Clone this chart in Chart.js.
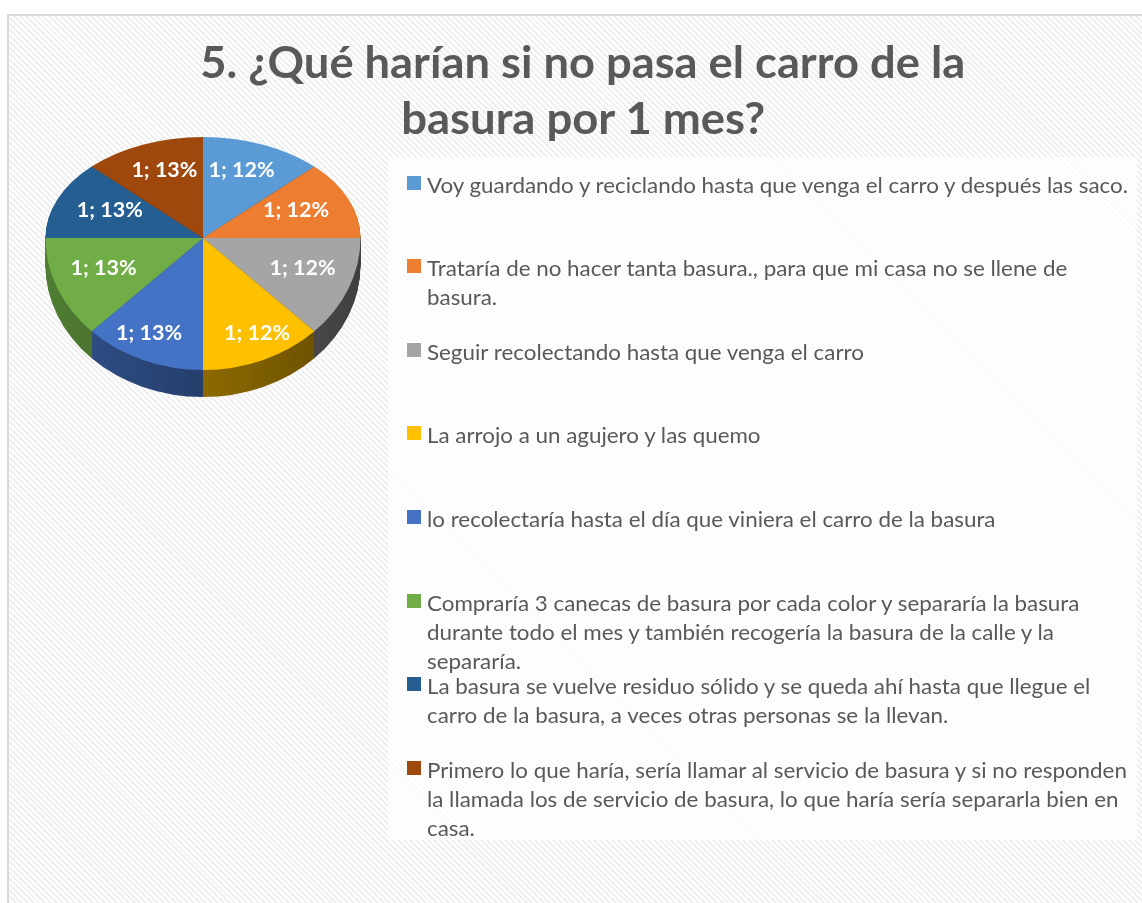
<!DOCTYPE html>
<html><head><meta charset="utf-8">
<script src="https://cdn.jsdelivr.net/npm/chart.js@4"></script>
<style>
html,body{margin:0;padding:0;background:#fff;overflow:hidden;width:1142px;height:903px;position:relative;}
#frame{position:absolute;left:7px;top:14px;width:1200px;height:960px;border:2px solid #d9d9d9;box-sizing:border-box;
 background:repeating-linear-gradient(45deg,#ffffff 0px,#ffffff 2.1px,#f0f0f0 2.1px,#f0f0f0 4.2px);}
#legbox{position:absolute;left:388px;top:157px;width:749px;height:683px;background:rgba(255,255,255,0.72);}
#chart{position:absolute;left:0;top:0;}
.tline{position:absolute;left:0;width:1166px;text-align:center;font-family:Lato,"Open Sans",sans-serif;font-weight:bold;
 font-size:44px;line-height:52px;color:#595959;white-space:nowrap;}
.tline span{display:inline-block;transform-origin:50% 50%;}
.lmark{position:absolute;left:407px;width:14px;height:14px;}
.ltext{position:absolute;left:427px;font-family:Lato,"Open Sans",sans-serif;font-size:21px;line-height:29px;color:#595959;white-space:nowrap;}
.ltext div{transform-origin:0 50%;}
</style></head>
<body>
<div id="frame"></div>
<div id="legbox"></div>
<canvas id="chart" width="1142" height="903"></canvas>
<div id="title"></div>
<div id="legend"></div>
<script>
const titleLines = ['5. ¿Qué harían si no pasa el carro de la', 'basura por 1 mes?'];
const categories = [
  ['Voy guardando y reciclando hasta que venga el carro y después las saco.'],
  ['Trataría de no hacer tanta basura., para que mi casa no se llene de', 'basura.'],
  ['Seguir recolectando hasta que venga el carro'],
  ['La arrojo a un agujero y las quemo'],
  ['lo recolectaría hasta el día que viniera el carro de la basura'],
  ['Compraría 3 canecas de basura por cada color y separaría la basura', 'durante todo el mes y también recogería la basura de la calle y la', 'separaría.'],
  ['La basura se vuelve residuo sólido y se queda ahí hasta que llegue el', 'carro de la basura, a veces otras personas se la llevan.'],
  ['Primero lo que haría, sería llamar al servicio de basura y si no responden', 'la llamada los de servicio de basura, lo que haría sería separarla bien en', 'casa.']
];
const values = [1, 1, 1, 1, 1, 1, 1, 1];
const pctLabels = ['12%', '12%', '12%', '12%', '13%', '13%', '13%', '13%'];
const colors = ['#5B9BD5', '#ED7D31', '#A5A5A5', '#FFC000', '#4472C4', '#70AD47', '#255E91', '#9E480E'];

const K_TOP = 0.641, K_BOT = 0.838, DEPTH = 27, K_LABEL = 0.73;

function shade(hex, f) {
  const n = parseInt(hex.slice(1), 16);
  const r = Math.round(((n >> 16) & 255) * f), g = Math.round(((n >> 8) & 255) * f), b = Math.round((n & 255) * f);
  return 'rgb(' + r + ',' + g + ',' + b + ')';
}

const pie3d = {
  id: 'pie3d',
  beforeDatasetsDraw(chart) {
    const ctx = chart.ctx, meta = chart.getDatasetMeta(0), arcs = meta.data;
    const cx = arcs[0].x, cy = arcs[0].y, R = arcs[0].outerRadius;
    const W = chart.width, H = chart.height;
    const half = (top, k, fn) => {
      ctx.save(); ctx.beginPath();
      if (top) ctx.rect(0, 0, W, cy + 0.5); else ctx.rect(0, cy, W, H - cy);
      ctx.clip();
      ctx.translate(cx, cy); ctx.scale(1, k); ctx.translate(-cx, -cy);
      fn(); ctx.restore();
    };
    const grads = arcs.map((a, i) => {
      const g = ctx.createLinearGradient(cx - R, 0, cx + R, 0);
      g.addColorStop(0, shade(colors[i], 0.72));
      g.addColorStop(1, shade(colors[i], 0.38));
      return g;
    });
    const fillSides = () => arcs.forEach((a, i) => {
      ctx.beginPath(); ctx.moveTo(cx, cy);
      ctx.arc(cx, cy, R, a.startAngle, a.endAngle); ctx.closePath();
      ctx.fillStyle = grads[i]; ctx.fill();
    });
    for (let d = DEPTH; d >= 1; d--) {
      ctx.save(); ctx.translate(0, d);
      half(false, K_BOT, fillSides);
      half(true, K_TOP, fillSides);
      ctx.restore();
    }
    half(false, K_BOT, () => arcs.forEach(a => a.draw(ctx)));
    half(true, K_TOP, () => arcs.forEach(a => a.draw(ctx)));
    // labels
    ctx.save();
    ctx.font = 'bold 21.5px Lato, "Open Sans", sans-serif';
    ctx.fillStyle = '#ffffff'; ctx.textAlign = 'center'; ctx.textBaseline = 'middle';
    arcs.forEach((a, i) => {
      const mid = (a.startAngle + a.endAngle) / 2;
      const c = -Math.sin(mid); // cosine measured from 12 o'clock
      const f = 0.64 + (c < 0 ? 0.3 * c * c : 0);
      const rr = R * f;
      const dx = Math.cos(mid) * rr;
      const dy = Math.sin(mid) * rr * K_LABEL;
      ctx.fillText(chart.data.datasets[0].data[i] + '; ' + pctLabels[i], cx + dx, cy + dy);
    });
    ctx.restore();
    return false;
  }
};

const chart = new Chart(document.getElementById('chart'), {
  type: 'pie',
  data: {
    labels: categories,
    datasets: [{ data: values, backgroundColor: colors, borderWidth: 0 }]
  },
  options: {
    responsive: false,
    animation: false,
    layout: { padding: { left: 45.5, right: 781.5, top: 80.5, bottom: 507.5 } },
    plugins: { legend: { display: false }, title: { display: false }, tooltip: { enabled: false } }
  },
  plugins: [pie3d]
});

// Title
const tDiv = document.getElementById('title');
const tTargets = [765, 364];
const tBaselines = [82, 138];
titleLines.forEach((t, i) => {
  const d = document.createElement('div');
  d.className = 'tline';
  d.style.top = (tBaselines[i] - 43.4 - 4) + 'px';
  const s = document.createElement('span'); s.textContent = t; d.appendChild(s);
  tDiv.appendChild(d);
  const w = s.getBoundingClientRect().width;
  s.style.transform = 'scaleX(' + (tTargets[i] / w) + ')';
});

// Legend
const lDiv = document.getElementById('legend');
const labels = chart.data.labels, bg = chart.data.datasets[0].backgroundColor;
labels.forEach((lines, i) => {
  const centerY = 184 + i * 83.6;
  const m = document.createElement('div');
  m.className = 'lmark'; m.style.background = bg[i]; m.style.top = (centerY - 8.5) + 'px';
  lDiv.appendChild(m);
  const tx = document.createElement('div');
  tx.className = 'ltext'; tx.style.top = (centerY - 14.5) + 'px';
  lines.forEach(l => { const ld = document.createElement('div'); ld.textContent = l; tx.appendChild(ld); });
  lDiv.appendChild(tx);
});
const first = lDiv.querySelector('.ltext div');
const r = document.createRange(); r.selectNodeContents(first);
const lscale = 701 / r.getBoundingClientRect().width;
lDiv.querySelectorAll('.ltext div').forEach(d => d.style.transform = 'scaleX(' + lscale + ')');
</script>
</body></html>
